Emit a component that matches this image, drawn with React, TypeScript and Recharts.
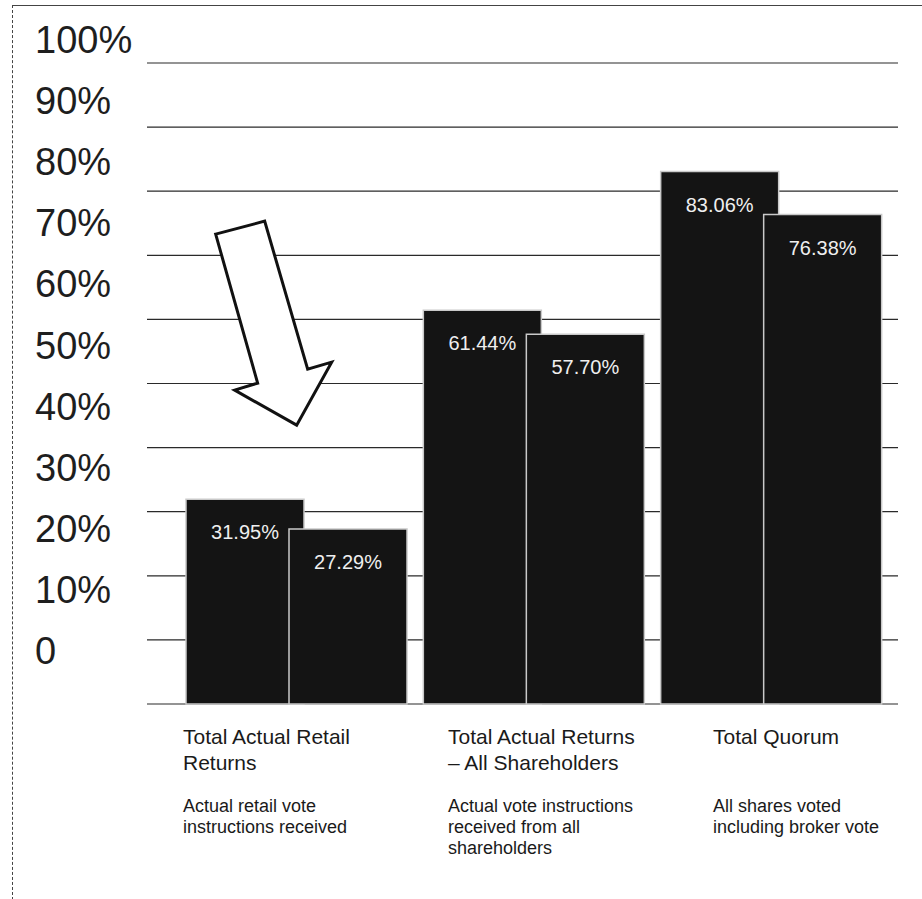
import { BarChart, Bar, XAxis, YAxis, CartesianGrid, LabelList, ReferenceDot } from 'recharts';

// values as printed on the bars
const categories = ['Total Actual Retail Returns', 'Total Actual Returns – All Shareholders', 'Total Quorum'];
const firstValues = [31.95, 61.44, 83.06];
const secondValues = [27.29, 57.7, 76.38];

// axis text, split the way the original wraps it
const titleLines = [
  ['Total Actual Retail', 'Returns'],
  ['Total Actual Returns', '– All Shareholders'],
  ['Total Quorum'],
];
const subtitleLines = [
  ['Actual retail vote', 'instructions received'],
  ['Actual vote instructions', 'received from all', 'shareholders'],
  ['All shares voted', 'including broker vote'],
];
const yTicks = [0, 10, 20, 30, 40, 50, 60, 70, 80, 90, 100];

// arrow annotation points at this level of the first group
const arrowTarget = 43.5;

const chartData = categories.map((name, i) => ({
  name,
  first: firstValues[i],
  second: secondValues[i],
}));

const FONT = '"Liberation Sans", Arial, Helvetica, sans-serif';

const YTick = (props: any) => {
  const { x, y, payload } = props;
  const v = payload.value;
  // labels in the original sit above their gridlines, drifting with height
  return (
    <text x={x - 112} y={y - 40 + 0.3 * v} textAnchor="start" fontSize={38} fill="#1e1e1e" fontFamily={FONT}>
      {v === 0 ? '0' : `${v}%`}
    </text>
  );
};

const XTick = (props: any) => {
  const { x, y, payload } = props;
  const i = categories.indexOf(payload.value);
  if (i < 0) return null;
  return (
    <g>
      <text x={x} y={y} textAnchor="start" fontSize={21} fill="#1a1a1a" fontFamily={FONT}>
        {titleLines[i].map((line, k) => (
          <tspan key={k} x={x} dy={k === 0 ? 10 : 26}>{line}</tspan>
        ))}
      </text>
      <text x={x} y={y} textAnchor="start" fontSize={18} fill="#1a1a1a" fontFamily={FONT}>
        {subtitleLines[i].map((line, k) => (
          <tspan key={k} x={x} dy={k === 0 ? 78 : 21}>{line}</tspan>
        ))}
      </text>
    </g>
  );
};

const Arrow = (props: any) => {
  const { cx, cy } = props;
  const pts = [
    [-81, -191], [-32, -204], [11, -56], [35, -63], [0, 0], [-62, -35], [-39, -42],
  ].map(([dx, dy]) => `${cx + dx},${cy + dy}`).join(' ');
  return <polygon points={pts} fill="#fff" stroke="#111" strokeWidth={3} strokeLinejoin="miter" />;
};

export default function App() {
  return (
    <div style={{ position: 'absolute', left: 0, top: 0, width: 922, height: 899, background: '#fff' }}>
      <div
        style={{
          position: 'absolute', left: 12, top: 5, width: 910, height: 894,
          borderTop: '1px solid #444', borderLeft: '1px dashed #444',
        }}
      />
      <BarChart
        width={922}
        height={899}
        data={chartData}
        margin={{ top: 63, right: 24, left: 0, bottom: 45 }}
        barGap={-15}
        style={{ position: 'absolute', left: 0, top: 0 }}
      >
        <CartesianGrid horizontal vertical={false} stroke="#2a2a2a" strokeWidth={1.2} />
        <XAxis dataKey="name" hide padding={{ left: 31, right: 8 }} />
        <XAxis
          xAxisId="labels"
          dataKey="name"
          scale="point"
          padding={{ left: 36, right: 185 }}
          axisLine={false}
          tickLine={false}
          tickSize={0}
          tickMargin={0}
          height={150}
          interval={0}
          tick={<XTick />}
        />
        <YAxis
          domain={[0, 100]}
          ticks={yTicks}
          width={147}
          axisLine={false}
          tickLine={false}
          tickSize={0}
          tickMargin={0}
          tick={<YTick />}
        />
        <Bar dataKey="first" fill="#141414" stroke="#c9c9c9" strokeWidth={1.5} barSize={118} isAnimationActive={false}>
          <LabelList
            dataKey="first"
            position="insideTop"
            offset={26}
            formatter={(v: any) => `${Number(v).toFixed(2)}%`}
            fill="#efefef"
            fontSize={20}
            fontFamily={FONT}
          />
        </Bar>
        <Bar dataKey="second" fill="#141414" stroke="#c9c9c9" strokeWidth={1.5} barSize={118} isAnimationActive={false}>
          <LabelList
            dataKey="second"
            position="insideTop"
            offset={26}
            formatter={(v: any) => `${Number(v).toFixed(2)}%`}
            fill="#efefef"
            fontSize={20}
            fontFamily={FONT}
          />
        </Bar>
        <ReferenceDot x={categories[0]} y={arrowTarget} r={0} shape={<Arrow />} />
      </BarChart>
    </div>
  );
}
